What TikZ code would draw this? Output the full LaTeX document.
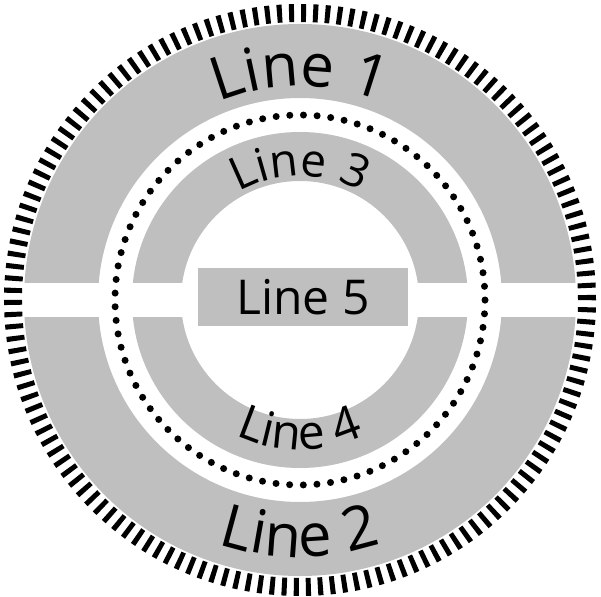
\documentclass[tikz,border=0pt]{standalone}
\usepackage{fontspec}
\setmainfont{Open Sans}
\usetikzlibrary{decorations.text}
\tikzset{
ring/.style={fill=gray!50, even odd rule},
gap/.style={fill=white},
arclabel/.style={decorate, decoration={text along path, text align=center, text={#1}}}
}
\begin{document}
\begin{tikzpicture}[x=1pt, y=1pt]
			\useasboundingbox (-300,-296) rectangle (301,300);
			% ---- rings
			\path[ring] (0,0) circle (276) (0,0) circle (202);
			\path[ring] (0,0) circle (168) (0,0) circle (119);
			\path[gap] (-285,-17) rectangle (285,17);
			% ---- tick ring and dotted ring
			\draw[line width=18pt, dash pattern=on 5pt off 7.022pt] (0,0) circle (287);
			\draw[line width=7pt, line cap=round, dash pattern=on 0pt off 13.675pt] (0,0) circle (185);
			% ---- centre box
			\node[fill=gray!50, minimum width=210, minimum height=58, font=\fontsize{48}{48}\selectfont] (l5) at (3,3) {Line 5};
			% ---- curved labels
			\path[arclabel={|\fontsize{60}{60}\selectfont|Line 1}] (165:214) arc (165:15:214);
			\path[arclabel={|\fontsize{46}{46}\selectfont|Line 3}] (150:124) arc (150:30:124);
			\path[arclabel={|\fontsize{60}{60}\selectfont|Line 2}] (200:257) arc (200:340:257);
			\path[arclabel={|\fontsize{48}{48}\selectfont|Line 4}] (215:150) arc (215:325:150);
\end{tikzpicture}
\end{document}
